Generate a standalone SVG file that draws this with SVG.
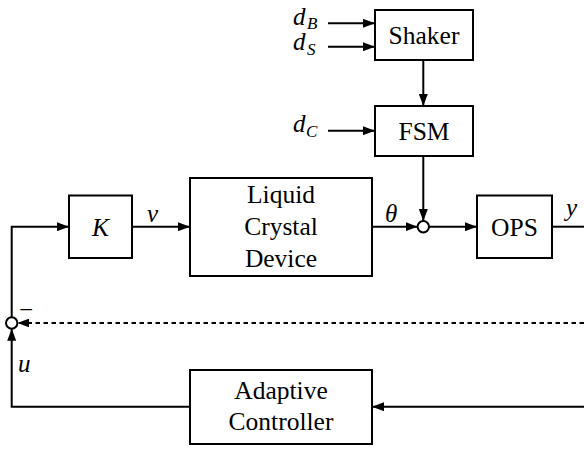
<svg xmlns="http://www.w3.org/2000/svg" width="584" height="449" viewBox="0 0 584 449">
<defs>
<marker id="ah" markerUnits="userSpaceOnUse" markerWidth="12" markerHeight="9" refX="12" refY="4.5" orient="auto">
<path d="M0,0 L12,4.5 L0,9 z" fill="#000"/>
</marker>
</defs>
<rect width="584" height="449" fill="#fff"/>
<g id="connectors" fill="none" stroke="#000" stroke-width="2" marker-end="url(#ah)">
<path d="M328,23.3 H375"/>
<path d="M328,46.7 H375"/>
<path d="M328,130.7 H375"/>
<path d="M423.3,60 V106"/>
<path d="M423.3,156 V221"/>
<path d="M372,226.7 H417.6"/>
<path d="M429,226.7 H477"/>
<path d="M132,226.7 H190"/>
<path d="M11.7,317.3 V226.7 H69"/>
<path d="M584,323 H17.4" stroke-dasharray="4.5 3.5"/>
<path d="M584,406.7 H372"/>
<path d="M190,406.7 H11.7 V328.7"/>
<path d="M552,226.7 H584" marker-end="none"/>
</g>
<g id="labels" fill="#000" font-style="italic" font-size="25">
<text font-family="Liberation Serif" x="293" y="25">d</text><text font-family="Liberation Serif" font-size="17" x="307" y="29">B</text>
<text font-family="Liberation Serif" x="293" y="50">d</text><text font-family="Liberation Serif" font-size="17" x="307" y="55">S</text>
<text font-family="Liberation Serif" x="293" y="132">d</text><text font-family="Liberation Serif" font-size="17" x="306" y="137">C</text>
<text font-family="Liberation Serif" x="147" y="222">ν</text>
<text font-family="Liberation Serif" x="385" y="222">θ</text>
<text font-family="Liberation Serif" x="566" y="216">y</text>
<text font-family="Liberation Serif" x="18" y="372">u</text>
<text font-family="Liberation Serif" font-style="normal" text-anchor="middle" x="26" y="318">−</text>
</g>
<g id="nodes" fill="#000" font-size="25.5" text-anchor="middle">
<g id="shaker"><rect fill="#fff" stroke="#000" stroke-width="2" x="375" y="10" width="98" height="50"/><text font-family="Liberation Serif" x="424" y="43.5">Shaker</text></g>
<g id="fsm"><rect fill="#fff" stroke="#000" stroke-width="2" x="375" y="106" width="98" height="50"/><text font-family="Liberation Serif" x="424" y="139.5">FSM</text></g>
<g id="k"><rect fill="#fff" stroke="#000" stroke-width="2" x="69" y="195.5" width="63" height="62.5"/><text font-family="Liberation Serif" font-style="italic" x="100.5" y="236">K</text></g>
<g id="lcd"><rect fill="#fff" stroke="#000" stroke-width="2" x="190" y="178" width="182" height="98"/><text font-family="Liberation Serif" x="281" y="203">Liquid</text><text font-family="Liberation Serif" x="281" y="235">Crystal</text><text font-family="Liberation Serif" x="281" y="267">Device</text></g>
<g id="ops"><rect fill="#fff" stroke="#000" stroke-width="2" x="477" y="195.5" width="75" height="62.5"/><text font-family="Liberation Serif" x="514.5" y="236">OPS</text></g>
<g id="adaptive"><rect fill="#fff" stroke="#000" stroke-width="2" x="190" y="370" width="182" height="74"/><text font-family="Liberation Serif" x="281" y="399">Adaptive</text><text font-family="Liberation Serif" x="281" y="430">Controller</text></g>
<g id="sum1"><circle fill="#fff" stroke="#000" stroke-width="2" cx="11.7" cy="323" r="5.7"/></g>
<g id="sum2"><circle fill="#fff" stroke="#000" stroke-width="2" cx="423.3" cy="226.7" r="5.7"/></g>
</g>
</svg>
